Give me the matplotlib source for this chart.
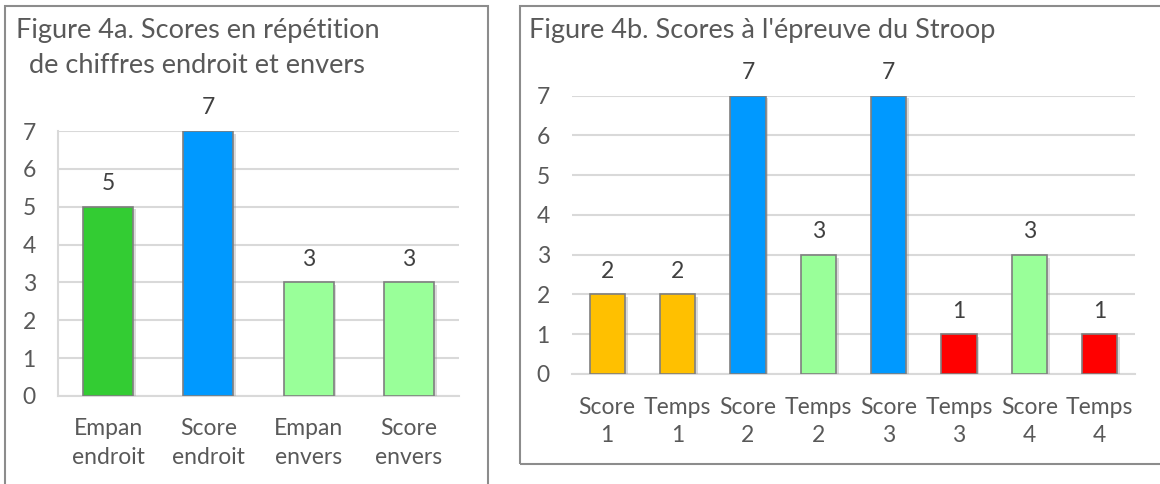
import matplotlib
matplotlib.use("Agg")
import matplotlib.pyplot as plt
from matplotlib.patches import Rectangle
import matplotlib.patheffects as pe

plt.rcParams['font.family'] = ['Lato', 'DejaVu Sans']

# ---- data ----
cats_a = ["Empan\nendroit", "Score\nendroit", "Empan\nenvers", "Score\nenvers"]
vals_a = [5, 7, 3, 3]
cols_a = ["#33CC33", "#0099FF", "#99FF99", "#99FF99"]

cats_b = ["Score\n1", "Temps\n1", "Score\n2", "Temps\n2", "Score\n3", "Temps\n3", "Score\n4", "Temps\n4"]
vals_b = [2, 2, 7, 3, 7, 1, 3, 1]
cols_b = ["#FFC000", "#FFC000", "#0099FF", "#99FF99", "#0099FF", "#FF0000", "#99FF99", "#FF0000"]

title_a1 = "Figure 4a. Scores en répétition"
title_a2 = "de chiffres endroit et envers"
title_b = "Figure 4b. Scores à l'épreuve du Stroop"
yticks = [0, 1, 2, 3, 4, 5, 6, 7]

W, H = 1160, 484
fig = plt.figure(figsize=(W / 100, H / 100), dpi=100)

def fx(px):
    return px / W

def fy(py):
    return 1 - py / H

TXT = "#595959"
LAB = "#404040"
GRID = "#D9D9D9"
EDGE = "#7F7F7F"
FS = 16.5

# panel borders
fig.patches.append(Rectangle((fx(5), fy(490)), fx(488) - fx(5), fy(6) - fy(490),
                             transform=fig.transFigure, fill=False, edgecolor="#8C8C8C", lw=1.5))
fig.patches.append(Rectangle((fx(520), fy(464)), fx(1166) - fx(520), fy(6) - fy(464),
                             transform=fig.transFigure, fill=False, edgecolor="#8C8C8C", lw=1.5))

def make_ax(rect, cats, vals, cols, xpad, lsp, left_spine):
    l, t, r, b = rect
    ax = fig.add_axes([fx(l), fy(b), fx(r) - fx(l), fy(t) - fy(b)])
    x = list(range(len(cats)))
    bars = ax.bar(x, vals, width=0.5, color=cols, edgecolor=EDGE, linewidth=1.2, zorder=3)
    for bar in bars:
        bar.set_path_effects([pe.SimplePatchShadow(offset=(2, -2), shadow_rgbFace="#999999", alpha=0.35),
                              pe.Normal()])
    ax.set_xlim(-0.5, len(cats) - 0.5)
    ax.set_ylim(0, 7)
    ax.set_yticks(yticks)
    ax.set_xticks(x)
    ax.set_xticklabels(cats, linespacing=lsp)
    ax.tick_params(axis='y', length=0, pad=16, labelsize=FS, labelcolor=TXT)
    ax.tick_params(axis='x', length=0, pad=xpad, labelsize=FS, labelcolor=TXT)
    ax.grid(axis='y', color=GRID, lw=1.5, zorder=0)
    ax.set_axisbelow(True)
    for s in ['top', 'right']:
        ax.spines[s].set_visible(False)
    ax.spines['bottom'].set_color(GRID)
    ax.spines['bottom'].set_linewidth(1.5)
    if left_spine:
        ax.spines['left'].set_color(GRID)
        ax.spines['left'].set_linewidth(1.5)
    else:
        ax.spines['left'].set_visible(False)
    for xi, v in zip(x, vals):
        ax.annotate(str(v), xy=(xi, v), xytext=(0, 9), textcoords='offset points',
                    ha='center', va='bottom', fontsize=FS, color=LAB, annotation_clip=False)
    return ax

make_ax((58, 131, 459, 396), cats_a, vals_a, cols_a, 15.5, 1.5, True)
make_ax((572, 95.7, 1135, 374), cats_b, vals_b, cols_b, 16.5, 1.4, False)

fig.text(fx(16), fy(37.7), title_a1, fontsize=19.5, color=TXT, ha='left', va='baseline')
fig.text(fx(29), fy(73.3), title_a2, fontsize=19.5, color=TXT, ha='left', va='baseline')
fig.text(fx(529), fy(37.7), title_b, fontsize=19.5, color=TXT, ha='left', va='baseline')

fig.savefig("out.png", dpi=100, facecolor="white")
